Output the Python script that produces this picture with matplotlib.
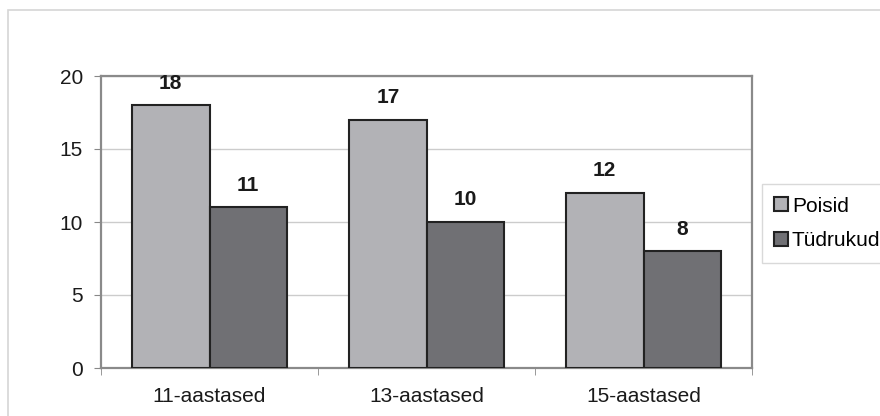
import numpy as np
import matplotlib
matplotlib.use("Agg")
import matplotlib.pyplot as plt
from matplotlib.patches import Rectangle

# data
categories = ["11-aastased", "13-aastased", "15-aastased"]
poisid = [18, 17, 12]
tudrukud = [11, 10, 8]
series_names = ["Poisid", "Tüdrukud"]

plt.rcParams["font.family"] = ["Liberation Sans", "DejaVu Sans"]

fig = plt.figure(figsize=(8.8, 4.16), dpi=100)
fig.patch.set_facecolor("white")

# outer chart-area frame
fig.patches.append(Rectangle((8 / 880, -0.1), 1.2, 1 - 10 / 416 + 0.1,
                             transform=fig.transFigure, fill=False,
                             edgecolor="#d6d6d6", linewidth=1.2))

ax = fig.add_axes([101 / 880, 1 - 368 / 416, 651 / 880, 292 / 416])

x = np.arange(len(categories))
w = 0.357
b1 = ax.bar(x - w / 2, poisid, w, color="#b2b2b6", edgecolor="#222222",
            linewidth=1.5, label=series_names[0], zorder=3)
b2 = ax.bar(x + w / 2, tudrukud, w, color="#707074", edgecolor="#222222",
            linewidth=1.5, label=series_names[1], zorder=3)

for bars, vals in ((b1, poisid), (b2, tudrukud)):
    for r, v in zip(bars, vals):
        ax.annotate(str(v), (r.get_x() + r.get_width() / 2, v),
                    xytext=(0, 12), textcoords="offset points",
                    ha="center", va="baseline", fontsize=15,
                    fontweight="bold", color="#1a1a1a", zorder=4)

ax.set_xlim(-0.5, 2.5)
ax.set_ylim(0, 20)
ax.set_yticks([0, 5, 10, 15, 20])
ax.set_xticks(x)
ax.set_xticklabels(categories)
ax.set_xticks([-0.5, 0.5, 1.5, 2.5], minor=True)
ax.tick_params(axis="x", which="major", length=0, pad=14, labelsize=15,
               labelcolor="#1a1a1a")
ax.tick_params(axis="x", which="minor", length=5, color="#888888")
ax.tick_params(axis="y", length=5, color="#888888", labelsize=15,
               labelcolor="#1a1a1a", pad=8)

ax.grid(axis="y", color="#cccccc", linewidth=1, zorder=0)
for s in ax.spines.values():
    s.set_color("#8a8a8a")
    s.set_linewidth(1.6)

leg = ax.legend(loc="center left", bbox_to_anchor=(1.015, 0.495),
                fontsize=15, frameon=True, fancybox=False,
                edgecolor="#d0d0d0", handlelength=0.65, handleheight=0.65,
                handletextpad=0.2, labelspacing=0.75, borderpad=0.6,
                borderaxespad=0)
leg.get_frame().set_linewidth(1.0)

fig.savefig("out.png", dpi=100)
